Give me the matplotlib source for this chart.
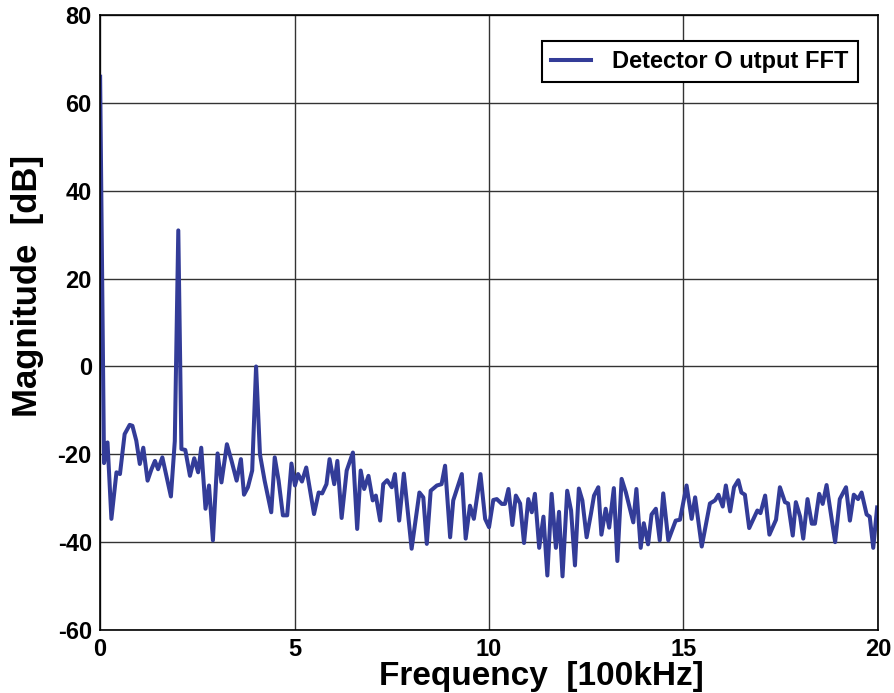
import matplotlib
matplotlib.use("Agg")
import matplotlib.pyplot as plt

plt.rcParams['font.family'] = ['Liberation Sans', 'DejaVu Sans']
plt.rcParams['font.weight'] = 'bold'
plt.rcParams['axes.unicode_minus'] = False

# frequency [100kHz] and magnitude [dB]
freq = [0.0, 0.10, 0.19, 0.29, 0.42, 0.51, 0.63, 0.76, 0.83, 0.93,
        1.02, 1.11, 1.22, 1.32, 1.41, 1.49, 1.60, 1.82, 1.92, 2.01,
        2.09, 2.19, 2.31, 2.42, 2.52, 2.60, 2.71, 2.80, 2.90, 3.02,
        3.12, 3.26, 3.38, 3.51, 3.62, 3.70, 3.80, 3.91, 4.01, 4.11,
        4.23, 4.40, 4.49, 4.59, 4.70, 4.81, 4.92, 5.01, 5.09, 5.19,
        5.30, 5.50, 5.62, 5.71, 5.82, 5.90, 6.02, 6.10, 6.21, 6.34,
        6.50, 6.61, 6.70, 6.79, 6.90, 7.01, 7.09, 7.20, 7.28, 7.38,
        7.50, 7.58, 7.69, 7.81, 8.01, 8.21, 8.31, 8.40, 8.50, 8.66,
        8.78, 8.87, 9.00, 9.08, 9.30, 9.40, 9.51, 9.61, 9.78, 9.90,
        10.00, 10.11, 10.20, 10.33, 10.41, 10.50, 10.60, 10.69, 10.80, 10.90,
        11.01, 11.10, 11.18, 11.29, 11.40, 11.50, 11.61, 11.72, 11.80, 11.89,
        12.01, 12.11, 12.21, 12.31, 12.40, 12.51, 12.62, 12.70, 12.81, 12.89,
        13.00, 13.09, 13.21, 13.30, 13.41, 13.52, 13.71, 13.79, 13.90, 13.98,
        14.09, 14.18, 14.29, 14.39, 14.48, 14.61, 14.80, 14.91, 15.08, 15.21,
        15.30, 15.47, 15.68, 15.81, 15.90, 16.01, 16.09, 16.20, 16.30, 16.41,
        16.49, 16.58, 16.69, 16.79, 16.90, 16.98, 17.10, 17.21, 17.38, 17.48,
        17.61, 17.69, 17.81, 17.89, 18.00, 18.08, 18.19, 18.30, 18.38, 18.49,
        18.58, 18.68, 18.90, 19.02, 19.18, 19.28, 19.38, 19.49, 19.58, 19.71,
        19.79, 19.88, 19.98]
mag = [66, -22, -17.3, -34.7, -24.1, -24.5, -15.4, -13.3, -13.5, -16.9,
       -22.2, -18.5, -26, -23.4, -21.5, -23.4, -20.7, -29.6, -17, 31,
       -18.8, -19, -24.9, -20.9, -24.1, -18.5, -32.4, -27.1, -39.6, -19.8,
       -26.4, -17.7, -21.5, -26, -21.1, -29.2, -27.5, -23.7, 0, -20,
       -26, -33.2, -20.7, -26, -33.9, -33.9, -22.1, -27.1, -24.5, -26.2,
       -23, -33.6, -28.7, -28.9, -26.8, -21.1, -26.8, -21.5, -34.5, -23.7,
       -19.6, -37, -23.7, -27.9, -24.9, -30.5, -29.4, -35.1, -26.8, -25.9,
       -27.5, -24.5, -35.1, -24.4, -41.5, -28.7, -29.8, -40.4, -28.3, -27.1,
       -26.8, -22.6, -38.9, -30.5, -24.5, -39.2, -31.7, -34.7, -24.5, -34.7,
       -36.6, -30.4, -30.2, -31.3, -31.3, -27.9, -36.1, -29.4, -31.2, -40.2,
       -30.2, -33.2, -29, -41.3, -34.2, -47.6, -29, -41.3, -33.1, -47.8,
       -28.3, -32.8, -45.3, -27.8, -30.5, -38.9, -33.6, -29.4, -27.5, -38.3,
       -32.4, -36.7, -27.7, -44.3, -25.6, -28.7, -35.5, -27.9, -41.3, -35.7,
       -40.5, -33.7, -32.4, -39.6, -28.9, -39.6, -35.1, -34.9, -27.1, -34.7,
       -29.8, -41, -31.2, -30.5, -29.2, -31.9, -27.1, -33, -27.5, -25.9,
       -28.7, -29.2, -36.8, -34.9, -32.8, -33.4, -29.4, -38.3, -34.9, -27.5,
       -30.9, -31.2, -38.5, -30.9, -34.2, -39.2, -30.2, -35.8, -35.8, -29,
       -31.3, -27, -40, -30.2, -27.5, -35.1, -29.2, -30.2, -28.7, -33.7,
       -34.2, -41.3, -32.1]

fig = plt.figure(figsize=(8.94, 6.93), dpi=100)
ax = fig.add_axes([0.112, 0.091, 0.870, 0.887])

ax.plot(freq, mag, color='#333c98', linewidth=2.9, label='Detector O utput FFT')

ax.set_xlim(0, 20)
ax.set_ylim(-60, 80)
ax.set_xticks([0, 5, 10, 15, 20])
ax.set_yticks([-60, -40, -20, 0, 20, 40, 60, 80])
ax.grid(True, color='#333333', linewidth=1.0)
ax.tick_params(labelsize=17, direction='in', length=0, pad=6)
for s in ax.spines.values():
    s.set_color('black')
    s.set_linewidth(1.2)

ax.set_xlabel('Frequency  [100kHz]', fontsize=24, fontweight='bold')
ax.xaxis.set_label_coords(0.567, -0.05)
ax.set_ylabel('Magnitude  [dB]', fontsize=25, fontweight='bold')
ax.yaxis.set_label_coords(-0.072, 0.56)

leg = ax.legend(loc='upper right', fontsize=17, fancybox=False, framealpha=1,
                edgecolor='black', handlelength=1.7, handletextpad=0.9,
                borderpad=0.38, borderaxespad=0,
                bbox_to_anchor=(0.974, 0.958))
leg.get_frame().set_linewidth(1.5)

fig.savefig('out.png', dpi=100)
